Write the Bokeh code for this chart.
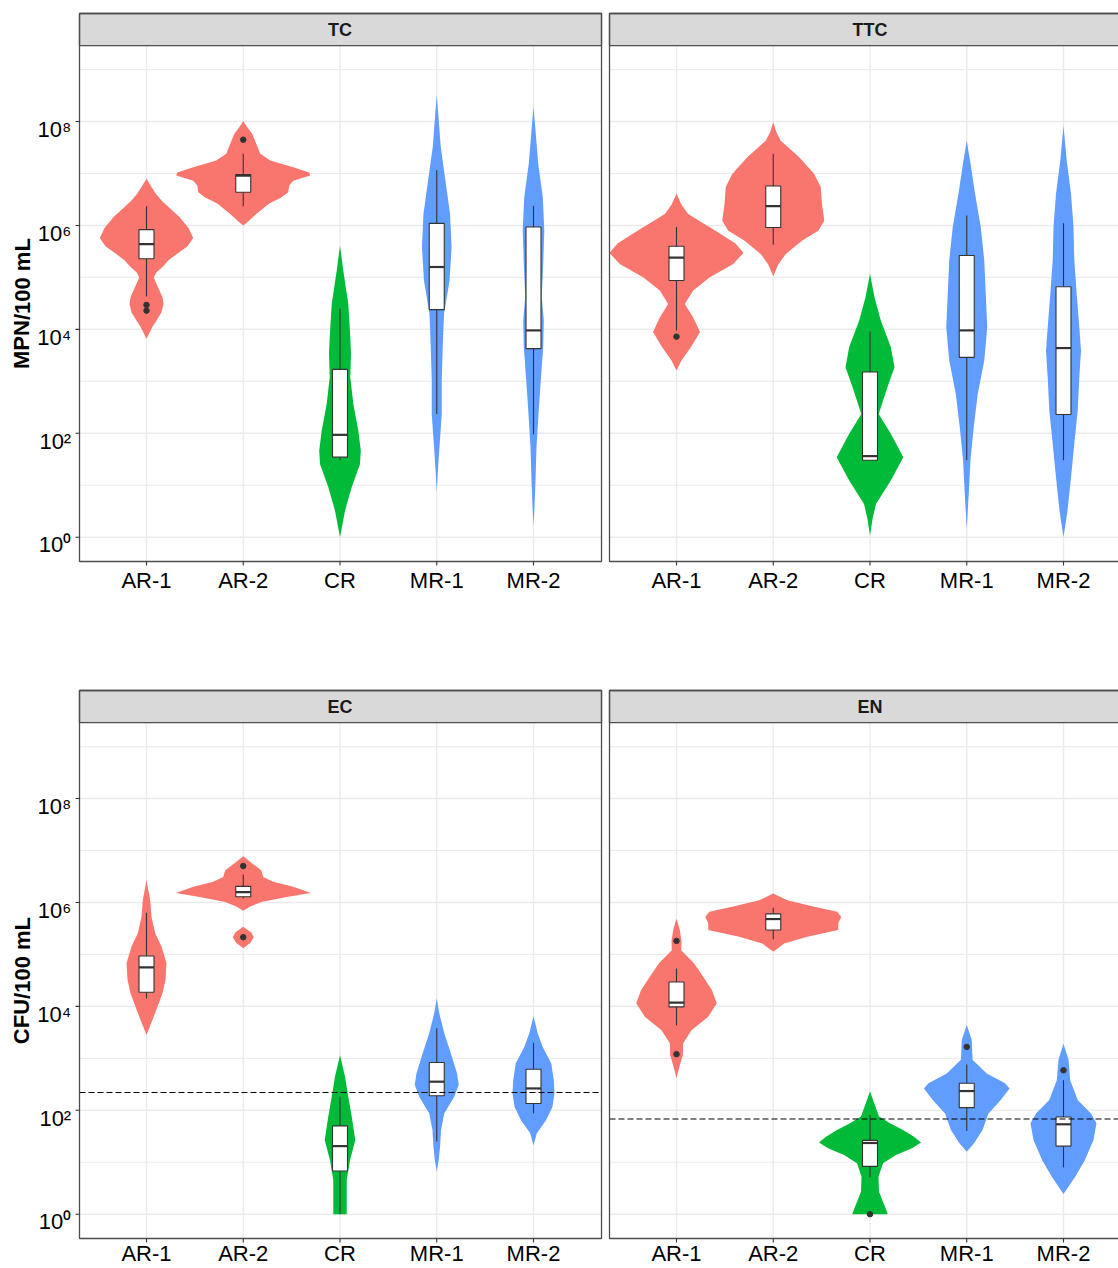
from bokeh.plotting import figure
from bokeh.layouts import column, row
from bokeh.models import Range1d
from bokeh.core.properties import value
from bokeh.embed import file_html
from bokeh.resources import INLINE

# ---------------- data ----------------
CATEGORIES = ["AR-1", "AR-2", "CR", "MR-1", "MR-2"]
CATEGORY_GROUP = ["AR", "AR", "CR", "MR", "MR"]
GROUP_COLORS = {"AR": "#F8766D", "CR": "#00BA38", "MR": "#619CFF"}
PANELS = ["TC", "TTC", "EC", "EN"]
Y_TITLES = ["MPN/100 mL", "CFU/100 mL"]
Y_MAJOR_EXP = [0, 2, 4, 6, 8]
Y_MAJOR_LABELS = ["10⁰", "10²", "10⁴", "10⁶", "10⁸"]
Y_MINOR_EXP = [1, 3, 5, 7, 9]

# violin outlines: log10 level and relative density (width)
TC_AR1_LEV = [6.90, 6.74, 6.62, 6.48, 6.30, 6.16, 5.95, 5.76, 5.60, 5.46, 5.33, 5.20, 5.10, 5.00, 4.88, 4.75, 4.62, 4.49, 4.33, 4.17, 4.05, 3.82]
TC_AR1_DEN = [0, 5, 9, 15, 25, 33, 42, 46.7, 41, 31, 22, 16, 10, 7.3, 10, 13, 16, 17, 15, 10, 6, 0]
TC_AR2_LEV = [8.01, 7.89, 7.76, 7.57, 7.38, 7.25, 7.12, 7.02, 6.96, 6.86, 6.77, 6.64, 6.54, 6.42, 6.22, 6.06, 6.00]
TC_AR2_DEN = [0, 4, 9, 13, 17, 27, 50, 66, 67, 50, 46, 45, 38, 26, 13, 4, 0]
TC_CR_LEV = [5.61, 5.32, 5.13, 4.49, 3.85, 3.53, 3.08, 2.57, 2.05, 1.67, 1.41, 0.96, 0.51, 0.0]
TC_CR_DEN = [0, 2, 3.3, 8.3, 10.3, 11, 10.3, 13.3, 18.3, 20.8, 20, 11.7, 5, 0]
TC_MR1_LEV = [8.50, 8.15, 7.51, 6.86, 6.22, 5.58, 4.94, 4.30, 3.66, 3.02, 2.37, 1.73, 1.40, 0.87]
TC_MR1_DEN = [0, 1.5, 4, 8.7, 13.3, 14.8, 12.8, 7.3, 6, 5, 5, 2.7, 1.5, 0]
TC_MR2_LEV = [8.29, 7.83, 7.19, 6.54, 5.90, 5.26, 4.62, 4.17, 3.66, 3.02, 2.37, 1.73, 1.09, 0.60, 0.22]
TC_MR2_DEN = [0, 2, 4.7, 9.3, 10.8, 9.7, 8.3, 10.3, 9.7, 7.3, 5, 3, 2, 1, 0]

TTC_AR1_LEV = [6.61, 6.40, 6.22, 6.06, 5.90, 5.65, 5.47, 5.26, 5.00, 4.75, 4.49, 4.23, 3.95, 3.66, 3.40, 3.21]
TTC_AR1_DEN = [0, 5, 11.7, 25, 39, 59, 67, 56.7, 33, 16.7, 8.3, 16.7, 23.5, 14.5, 5, 0]
TTC_AR2_LEV = [7.99, 7.80, 7.63, 7.31, 6.99, 6.74, 6.42, 6.09, 5.90, 5.71, 5.45, 5.25, 5.02]
TTC_AR2_DEN = [0, 3, 7.5, 26, 41, 47.5, 48.7, 51, 45, 29, 12.5, 5, 0]
TTC_CR_LEV = [5.07, 4.62, 4.17, 3.66, 3.27, 2.89, 2.37, 1.99, 1.54, 1.09, 0.64, 0.35, 0.03]
TTC_CR_DEN = [0, 4.5, 10.8, 20.8, 24.5, 17.5, 8.7, 20.8, 33.3, 20.8, 6, 2.5, 0]
TTC_MR1_LEV = [7.63, 7.25, 6.61, 5.97, 5.33, 4.68, 4.04, 3.40, 2.76, 2.12, 1.48, 0.84, 0.16]
TTC_MR1_DEN = [0, 3.3, 8.3, 14, 17.5, 19, 20.5, 17.5, 11, 7, 3.7, 2, 0]
TTC_MR2_LEV = [7.92, 7.25, 6.61, 5.97, 5.33, 4.68, 4.04, 3.59, 3.08, 2.44, 1.80, 1.15, 0.51, 0.0]
TTC_MR2_DEN = [0, 3.2, 7.5, 10, 10.8, 13.2, 15.8, 17.5, 15.8, 14.2, 10.8, 7.5, 4, 0]

EC_AR1_LEV = [6.43, 6.04, 5.72, 5.40, 5.15, 4.83, 4.51, 4.25, 3.99, 3.74, 3.45]
EC_AR1_DEN = [0, 3.7, 5, 8.8, 15, 20, 19, 16, 11, 6, 0]
EC_AR2_LEV = [6.89, 6.75, 6.62, 6.49, 6.40, 6.30, 6.18, 6.11, 6.01, 5.92, 5.84]
EC_AR2_DEN = [0, 9, 18, 20, 30, 50, 67.5, 45, 18, 7, 0]
EC_AR2B_LEV = [5.53, 5.42, 5.33, 5.22, 5.12]
EC_AR2B_DEN = [0, 8, 10.5, 7, 0]
EC_CR_LEV = [3.06, 2.65, 2.26, 1.88, 1.43, 1.04, 0.66, 0.28, 0.0]
EC_CR_DEN = [0, 5, 8.3, 11.7, 15.3, 10, 6.7, 6.7, 6.7]
EC_MR1_LEV = [4.15, 3.87, 3.48, 3.10, 2.71, 2.49, 2.26, 1.94, 1.62, 1.30, 1.05, 0.82]
EC_MR1_DEN = [0, 2.5, 7.5, 14, 20.3, 22, 17.5, 7.5, 4.3, 3.3, 2, 0]
EC_MR2_LEV = [3.81, 3.48, 3.22, 2.90, 2.58, 2.33, 2.07, 1.81, 1.56, 1.32]
EC_MR2_DEN = [0, 4.2, 9.2, 17.8, 20.3, 21, 19, 12.5, 3.3, 0]

EN_AR1_LEV = [5.69, 5.47, 5.26, 5.08, 4.83, 4.57, 4.31, 4.06, 3.80, 3.54, 3.29, 3.06, 2.84, 2.62]
EN_AR1_DEN = [0, 3.3, 5, 4.7, 17.5, 26.7, 35.5, 40.3, 31.7, 15, 6.7, 6.3, 3, 0]
EN_AR2_LEV = [6.17, 6.04, 5.92, 5.82, 5.72, 5.60, 5.47, 5.34, 5.21, 5.05]
EN_AR2_DEN = [0, 14, 40, 64, 68, 65, 65, 34, 11, 0]
EN_CR_LEV = [2.36, 2.07, 1.88, 1.75, 1.62, 1.49, 1.38, 1.27, 1.14, 0.98, 0.72, 0.43, 0.24, 0.02, 0.0]
EN_CR_DEN = [0, 5.5, 9, 20, 33, 44, 51, 42, 26, 13, 8.5, 9, 13, 17.5, 17.5]
EN_MR1_LEV = [3.64, 3.35, 2.97, 2.71, 2.52, 2.42, 2.20, 1.94, 1.62, 1.37, 1.20]
EN_MR1_DEN = [0, 5, 5.8, 20, 38.3, 42.8, 34, 21.7, 15.8, 7.5, 0]
EN_MR2_LEV = [3.28, 2.97, 2.58, 2.20, 1.94, 1.75, 1.43, 1.04, 0.72, 0.39]
EN_MR2_DEN = [0, 5, 6.7, 14.2, 27.5, 33, 30, 21.3, 11.7, 0]

# box plot statistics (log10), order = CATEGORIES
TC_WHI = [6.37, 7.38, 4.40, 7.06, 6.38]
TC_Q3 = [5.92, 6.98, 3.23, 6.04, 5.97]
TC_MED = [5.64, 6.96, 1.97, 5.20, 3.98]
TC_Q1 = [5.36, 6.64, 1.54, 4.38, 3.63]
TC_WLO = [4.63, 6.37, 1.48, 2.37, 1.98]
TC_OUT_CAT = ["AR-1", "AR-1", "AR-2"]
TC_OUT_LEV = [4.47, 4.36, 7.65]

TTC_WHI = [5.97, 7.38, 3.96, 6.19, 6.04]
TTC_Q3 = [5.60, 6.76, 3.18, 5.42, 4.82]
TTC_MED = [5.38, 6.37, 1.56, 3.98, 3.64]
TTC_Q1 = [4.94, 5.96, 1.48, 3.46, 2.36]
TTC_WLO = [3.98, 5.63, 1.48, 1.48, 1.48]
TTC_OUT_CAT = ["AR-1"]
TTC_OUT_LEV = [3.86]

EC_WHI = [5.80, 6.54, 2.26, 3.58, 3.30]
EC_Q3 = [4.97, 6.31, 1.70, 2.92, 2.79]
EC_MED = [4.75, 6.20, 1.31, 2.55, 2.42]
EC_Q1 = [4.27, 6.11, 0.83, 2.28, 2.13]
EC_WLO = [4.15, 6.08, 0.00, 1.40, 1.94]
EC_OUT_CAT = ["AR-2", "AR-2"]
EC_OUT_LEV = [6.70, 5.33]

EN_WHI = [4.73, 5.90, 1.91, 2.88, 2.58]
EN_Q3 = [4.47, 5.78, 1.42, 2.52, 1.87]
EN_MED = [4.07, 5.68, 1.37, 2.37, 1.73]
EN_Q1 = [3.99, 5.47, 0.92, 2.05, 1.31]
EN_WLO = [3.63, 5.29, 0.71, 1.60, 0.90]
EN_OUT_CAT = ["AR-1", "AR-1", "CR", "MR-1", "MR-2"]
EN_OUT_LEV = [5.26, 3.08, 0.0, 3.22, 2.77]

EC_LIMIT = 220
EN_LIMIT = 68

# ---------------- style / layout ----------------
FONT = "Liberation Sans"
BORDER = "#4D4D4D"
GRID = "#EBEBEB"
INK = "#333333"
VIOLIN_SCALE = 1 / 96.75
BOX_HALF = 0.0775
PXU = 96.75          # pixels per category unit
PXD = 51.96          # pixels per decade
X0, X1 = 0.3075, 5.703               # panel x extent (category units)
L_BOT, L_TOP, STRIP_L = -0.468, 10.079, 9.46   # panel y extent (log10)


def L(v):
    return 10 ** v


def make_panel(name, left, bottom_row, violins, stats, outliers, limit=None, ytitle=None):
    # figure covers panel plus its margins; everything is drawn inside the frame
    pad_l = 79 if left else 4
    fw = 605 if left else 513
    pad_t = 69 if bottom_row else 13
    pad_b = 30 if bottom_row else 60
    fh = pad_t + 548 + pad_b
    p = figure(output_backend="svg", toolbar_location=None, title=None,
               x_range=Range1d(X0 - pad_l / PXU, X0 + (fw - pad_l) / PXU),
               y_range=Range1d(L(L_BOT - pad_b / PXD), L(L_TOP + pad_t / PXD)),
               y_axis_type="log", x_axis_location=None, y_axis_location=None,
               frame_width=fw, frame_height=fh, min_border=0,
               outline_line_color=None, background_fill_color="white", border_fill_color="white")
    p.center = []

    # grid lines
    ys = [L(e) for e in Y_MAJOR_EXP]
    ys_minor = [L(e) for e in Y_MINOR_EXP]
    xc = [i + 1 for i in range(len(CATEGORIES))]
    p.segment(x0=[X0] * len(ys_minor), x1=[X1] * len(ys_minor), y0=ys_minor, y1=ys_minor,
              line_color=GRID, line_width=1.2)
    p.segment(x0=[X0] * len(ys), x1=[X1] * len(ys), y0=ys, y1=ys, line_color=GRID, line_width=1.5)
    p.segment(x0=xc, x1=xc, y0=[L(L_BOT)] * 5, y1=[L(STRIP_L)] * 5, line_color=GRID, line_width=1.4)

    # strip
    p.quad(left=[X0], right=[X1], bottom=[L(STRIP_L)], top=[L(L_TOP)],
           fill_color="#D9D9D9", line_color=BORDER, line_width=1.3)
    p.text(x=[3], y=[L((STRIP_L + L_TOP) / 2)], text=[name], text_font=value(FONT),
           text_font_style="bold", text_font_size="18px", text_align="center",
           text_baseline="middle", text_color="#1A1A1A")

    # violins
    for cat, lev, den in violins:
        i = CATEGORIES.index(cat)
        c = i + 1
        half = [d * VIOLIN_SCALE for d in den]
        vx = [c - h for h in half] + [c + h for h in reversed(half)]
        vy = [L(l) for l in lev] + [L(l) for l in reversed(lev)]
        p.patch(vx, vy, fill_color=GROUP_COLORS[CATEGORY_GROUP[i]], line_color=None)

    # box plots
    whi, q3, med, q1, wlo = stats
    p.segment(x0=xc, x1=xc, y0=[L(v) for v in q3], y1=[L(v) for v in whi], line_color=INK, line_width=1.1)
    p.segment(x0=xc, x1=xc, y0=[L(v) for v in q1], y1=[L(v) for v in wlo], line_color=INK, line_width=1.1)
    p.quad(left=[c - BOX_HALF for c in xc], right=[c + BOX_HALF for c in xc],
           bottom=[L(v) for v in q1], top=[L(v) for v in q3],
           fill_color="white", line_color=INK, line_width=1.1)
    p.segment(x0=[c - BOX_HALF for c in xc], x1=[c + BOX_HALF for c in xc],
              y0=[L(v) for v in med], y1=[L(v) for v in med], line_color=INK, line_width=2.2)
    ocat, olev = outliers
    p.scatter(x=[CATEGORIES.index(c) + 1 for c in ocat], y=[L(v) for v in olev], size=5.5, color=INK)

    if limit is not None:
        p.segment(x0=[X0], x1=[X1], y0=[limit], y1=[limit], line_color="black",
                  line_dash="6 3", line_width=1.1)

    # panel border
    p.quad(left=[X0], right=[X1], bottom=[L(L_BOT)], top=[L(L_TOP)],
           fill_color=None, line_color=BORDER, line_width=1.3)

    # x ticks and category labels
    p.segment(x0=xc, x1=xc, y0=[L(L_BOT)] * 5, y1=[L(L_BOT - 4 / PXD)] * 5, line_color=INK, line_width=1.1)
    lab_drop = 15.0 if bottom_row else 18.5
    p.text(x=xc, y=[L(L_BOT - lab_drop / PXD)] * 5, text=CATEGORIES, text_font=value(FONT),
           text_font_size="22px", text_align="center", text_baseline="alphabetic", text_color="black")

    if left:
        p.segment(x0=[X0 - 4 / PXU] * 5, x1=[X0] * 5, y0=ys, y1=ys, line_color=INK, line_width=1.1)
        p.text(x=[X0 - 8.3 / PXU] * 5, y=[L(e - 7.8 / PXD) for e in Y_MAJOR_EXP], text=Y_MAJOR_LABELS,
               text_font=value(FONT), text_font_size="22px", text_align="right",
               text_baseline="alphabetic", text_color="black")
        p.text(x=[X0 - 57.5 / PXU], y=[L((L_BOT + STRIP_L) / 2)], text=[ytitle], angle=1.5707963,
               text_font=value(FONT), text_font_style="bold", text_font_size="22px",
               text_align="center", text_baseline="middle", text_color="black")
    return p


tc = make_panel(PANELS[0], True, False,
                [("AR-1", TC_AR1_LEV, TC_AR1_DEN), ("AR-2", TC_AR2_LEV, TC_AR2_DEN),
                 ("CR", TC_CR_LEV, TC_CR_DEN), ("MR-1", TC_MR1_LEV, TC_MR1_DEN),
                 ("MR-2", TC_MR2_LEV, TC_MR2_DEN)],
                (TC_WHI, TC_Q3, TC_MED, TC_Q1, TC_WLO), (TC_OUT_CAT, TC_OUT_LEV), None, Y_TITLES[0])
ttc = make_panel(PANELS[1], False, False,
                 [("AR-1", TTC_AR1_LEV, TTC_AR1_DEN), ("AR-2", TTC_AR2_LEV, TTC_AR2_DEN),
                  ("CR", TTC_CR_LEV, TTC_CR_DEN), ("MR-1", TTC_MR1_LEV, TTC_MR1_DEN),
                  ("MR-2", TTC_MR2_LEV, TTC_MR2_DEN)],
                 (TTC_WHI, TTC_Q3, TTC_MED, TTC_Q1, TTC_WLO), (TTC_OUT_CAT, TTC_OUT_LEV))
ec = make_panel(PANELS[2], True, True,
                [("AR-1", EC_AR1_LEV, EC_AR1_DEN), ("AR-2", EC_AR2_LEV, EC_AR2_DEN),
                 ("AR-2", EC_AR2B_LEV, EC_AR2B_DEN),
                 ("CR", EC_CR_LEV, EC_CR_DEN), ("MR-1", EC_MR1_LEV, EC_MR1_DEN),
                 ("MR-2", EC_MR2_LEV, EC_MR2_DEN)],
                (EC_WHI, EC_Q3, EC_MED, EC_Q1, EC_WLO), (EC_OUT_CAT, EC_OUT_LEV), EC_LIMIT, Y_TITLES[1])
en = make_panel(PANELS[3], False, True,
                [("AR-1", EN_AR1_LEV, EN_AR1_DEN), ("AR-2", EN_AR2_LEV, EN_AR2_DEN),
                 ("CR", EN_CR_LEV, EN_CR_DEN), ("MR-1", EN_MR1_LEV, EN_MR1_DEN),
                 ("MR-2", EN_MR2_LEV, EN_MR2_DEN)],
                (EN_WHI, EN_Q3, EN_MED, EN_Q1, EN_WLO), (EN_OUT_CAT, EN_OUT_LEV), EN_LIMIT)

layout = column(row(tc, ttc), row(ec, en))
open("out.html", "w").write(file_html(layout, INLINE))
